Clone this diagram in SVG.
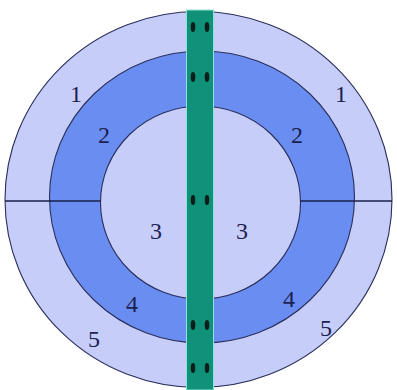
<svg xmlns="http://www.w3.org/2000/svg" width="397" height="390" viewBox="0 0 397 390">
<style>
.ring{stroke:#2a2f5a;stroke-width:1.1}
.light{fill:#c6cdf9}
.dark{fill:#6a8df1}
.sep{stroke:#1a1f4a;stroke-width:1.6}
.lbl{font-family:"Liberation Serif","Times New Roman",serif;font-size:24px;fill:#1c2150;text-anchor:middle}
.dot{fill:#0b1f1a}
</style>
<rect width="397" height="390" fill="#ffffff"/>
<g id="zone5-1">
<ellipse class="ring light" cx="198.5" cy="199.5" rx="193.5" ry="188"/>
</g>
<g id="zone2-4">
<ellipse class="ring dark" cx="202" cy="197" rx="152.5" ry="146"/>
</g>
<g id="zone3">
<ellipse class="ring light" cx="200.5" cy="202.5" rx="100" ry="96.5"/>
</g>
<g id="dividers">
<line class="sep" x1="5" y1="201" x2="100.5" y2="201"/>
<line class="sep" x1="300.5" y1="201" x2="392" y2="201"/>
</g>
<g id="bar">
<rect x="186.5" y="10" width="27" height="380" fill="#11907a" stroke="#8fe3d6" stroke-width="1"/>
<ellipse class="dot" cx="193" cy="27" rx="2.3" ry="5"/>
<ellipse class="dot" cx="207" cy="27" rx="2.3" ry="5"/>
<ellipse class="dot" cx="193" cy="77" rx="2.3" ry="5"/>
<ellipse class="dot" cx="207" cy="77" rx="2.3" ry="5"/>
<ellipse class="dot" cx="193" cy="200" rx="2.3" ry="5"/>
<ellipse class="dot" cx="207" cy="200" rx="2.3" ry="5"/>
<ellipse class="dot" cx="193" cy="325" rx="2.3" ry="5"/>
<ellipse class="dot" cx="207" cy="325" rx="2.3" ry="5"/>
<ellipse class="dot" cx="193" cy="368" rx="2.3" ry="5"/>
<ellipse class="dot" cx="207" cy="368" rx="2.3" ry="5"/>
</g>
<g id="labels">
<text class="lbl" x="76" y="102">1</text>
<text class="lbl" x="341" y="102">1</text>
<text class="lbl" x="104" y="143">2</text>
<text class="lbl" x="297" y="143">2</text>
<text class="lbl" x="156" y="239">3</text>
<text class="lbl" x="242" y="239">3</text>
<text class="lbl" x="132" y="312">4</text>
<text class="lbl" x="289" y="307">4</text>
<text class="lbl" x="94" y="347">5</text>
<text class="lbl" x="326" y="336">5</text>
</g>
</svg>
